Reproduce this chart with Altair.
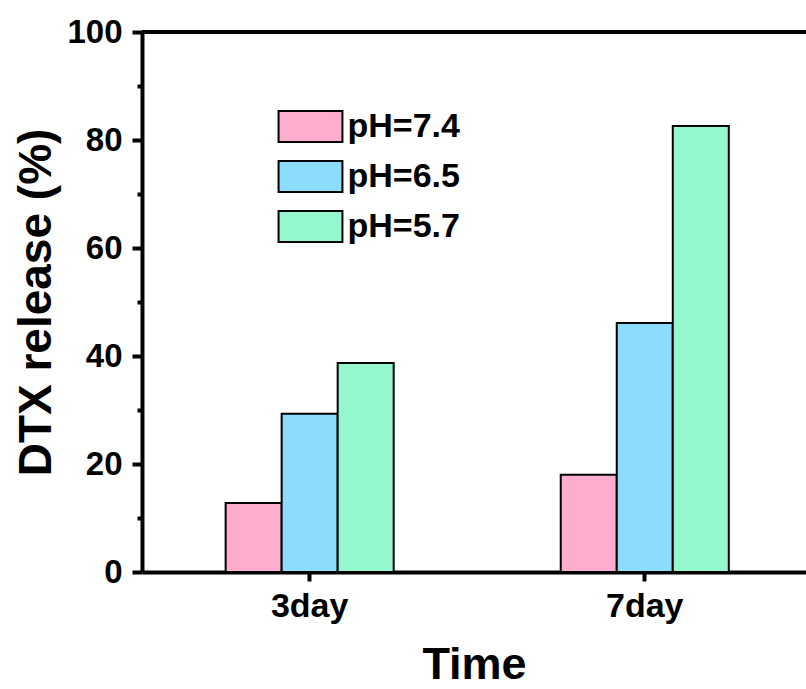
import altair as alt
import pandas as pd

times = ["3day", "7day"]
series = ["pH=7.4", "pH=6.5", "pH=5.7"]
values_3day = [12.8, 29.3, 38.7]
values_7day = [18.0, 46.1, 82.6]
colors = ["#FEADCE", "#8CDDFC", "#94F7CD"]
y_ticks = [0, 10, 20, 30, 40, 50, 60, 70, 80, 90, 100]

rows = []
for t, vals in zip(times, [values_3day, values_7day]):
    for s, v in zip(series, vals):
        rows.append({"time": t, "ph": s, "release": v})
df = pd.DataFrame(rows)

FONT = "Liberation Sans"
W, H = 664, 540

yscale = alt.Scale(domain=[0, 100], nice=False, zero=True)

bars = alt.Chart(df).mark_bar(stroke="black", strokeWidth=2, opacity=1).encode(
    x=alt.X(
        "time:N",
        sort=times,
        scale=alt.Scale(paddingInner=0.4985, paddingOuter=0.24, align=0.52),
        axis=alt.Axis(
            title="Time", labelAngle=0, domainWidth=4, domainColor="black",
            tickSize=9, tickWidth=4, tickColor="black", labelPadding=8,
            labelFontSize=34, labelFont=FONT, labelFontWeight="bold", labelColor="black",
            titleFontSize=45, titleFont=FONT, titleFontWeight="bold", titleColor="black",
            titlePadding=19, grid=False,
        ),
    ),
    xOffset=alt.XOffset("ph:N", sort=series, scale=alt.Scale(paddingInner=0, paddingOuter=0)),
    y=alt.Y(
        "release:Q",
        scale=yscale,
        axis=alt.Axis(
            title="DTX release (%)", values=y_ticks,
            labelExpr="datum.value % 20 === 0 ? datum.label : ''",
            tickSize={"condition": {"test": "datum.value % 20 === 0", "value": 10}, "value": 5},
            domainWidth=4, domainColor="black", tickWidth=4, tickColor="black",
            labelPadding=10, labelFontSize=33, labelFont=FONT, labelFontWeight="bold",
            labelColor="black", titleFontSize=46, titleFont=FONT, titleFontWeight="bold",
            titleColor="black", titlePadding=6, grid=False,
        ),
    ),
    fill=alt.Fill(
        "ph:N",
        sort=series,
        scale=alt.Scale(domain=series, range=colors),
        legend=alt.Legend(
            title=None, orient="none", legendX=151.5, legendY=77.5, padding=0,
            symbolType="M-2.06,-1H2.06V1H-2.06Z", symbolSize=961,
            symbolStrokeColor="black", symbolStrokeWidth=2, symbolOpacity=1,
            labelFontSize=34, labelFont=FONT, labelFontWeight="bold", labelColor="black",
            labelOffset=20, rowPadding=10,
        ),
    ),
)

top_line = alt.Chart(pd.DataFrame({"v": [100]})).mark_rule(
    color="black", strokeWidth=4
).encode(
    y=alt.Y("v:Q", scale=yscale),
    x=alt.value(0),
    x2=alt.value(W),
)

chart = alt.layer(bars, top_line).properties(
    width=W, height=H,
    autosize=alt.AutoSizeParams(type="none"),
    padding={"left": 142, "top": 32, "right": 0, "bottom": 117},
    background="white",
).configure_view(stroke=None)

chart.save("out.html", embed_options={"renderer": "svg", "actions": False})
